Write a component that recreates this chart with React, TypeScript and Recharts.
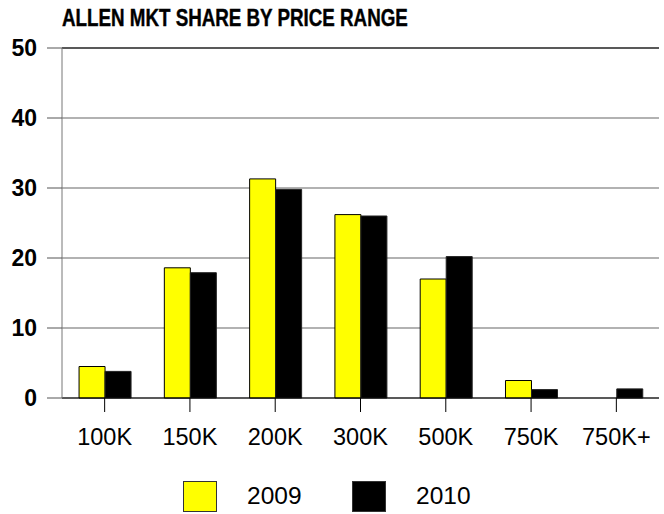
import { BarChart, Bar, XAxis, YAxis, CartesianGrid, ReferenceLine } from 'recharts';

// price range buckets and market share (%) per year
const categories = ['100K', '150K', '200K', '300K', '500K', '750K', '750K+'];
const share2009 = [4.5, 18.6, 31.3, 26.2, 17.0, 2.5, 0];
const share2010 = [3.8, 17.9, 29.8, 26.0, 20.2, 1.2, 1.3];
const yTicks = [0, 10, 20, 30, 40, 50];

const data = categories.map((cat, i) => ({
  cat,
  y2009: share2009[i],
  y2010: share2010[i],
}));

const FONT = '"Liberation Sans", Arial, sans-serif';

export default function App() {
  return (
    <div style={{ position: 'absolute', top: 0, left: 0, width: 664, height: 514, background: '#fff', fontFamily: FONT }}>
      <div
        style={{
          position: 'absolute',
          left: 62,
          top: 6.5,
          fontSize: 23,
          lineHeight: 1,
          fontWeight: 'bold',
          whiteSpace: 'nowrap',
          transform: 'scaleX(0.816)',
          transformOrigin: 'left top',
          WebkitTextStroke: '0.4px #000',
        }}
      >
        ALLEN MKT SHARE BY PRICE RANGE
      </div>

      <BarChart
        width={664}
        height={514}
        data={data}
        margin={{ top: 48, right: 5, left: 0, bottom: 56 }}
        barCategoryGap="20%"
        barGap={0}
      >
        <CartesianGrid vertical={false} stroke="#666" strokeWidth={1.2} />
        <ReferenceLine y={50} stroke="#000" strokeWidth={1.2} />
        <XAxis
          dataKey="cat"
          height={60}
          tickSize={14}
          tickMargin={16}
          axisLine={{ stroke: '#000' }}
          tickLine={{ stroke: '#000' }}
          tick={{ fill: '#000', fontSize: 23.5, fontFamily: FONT }}
        />
        <YAxis
          width={62}
          domain={[0, 50]}
          ticks={yTicks}
          interval={0}
          tickSize={15}
          tickMargin={10}
          axisLine={{ stroke: '#777' }}
          tickLine={{ stroke: '#555' }}
          tick={{ fill: '#000', fontSize: 23, fontWeight: 'bold', fontFamily: FONT }}
        />
        <Bar dataKey="y2009" fill="#FFFF00" stroke="#000" strokeWidth={1} isAnimationActive={false} />
        <Bar dataKey="y2010" fill="#000" stroke="#222" strokeWidth={1} isAnimationActive={false} />
      </BarChart>

      {/* legend */}
      <div style={{ position: 'absolute', left: 183, top: 481, width: 32, height: 29, background: '#FFFF00', border: '1px solid #333' }} />
      <div style={{ position: 'absolute', left: 247, top: 483.5, fontSize: 24.5, lineHeight: 1 }}>2009</div>
      <div style={{ position: 'absolute', left: 352, top: 481, width: 32, height: 29, background: '#000', border: '1px solid #333' }} />
      <div style={{ position: 'absolute', left: 416, top: 483.5, fontSize: 24.5, lineHeight: 1 }}>2010</div>
    </div>
  );
}
